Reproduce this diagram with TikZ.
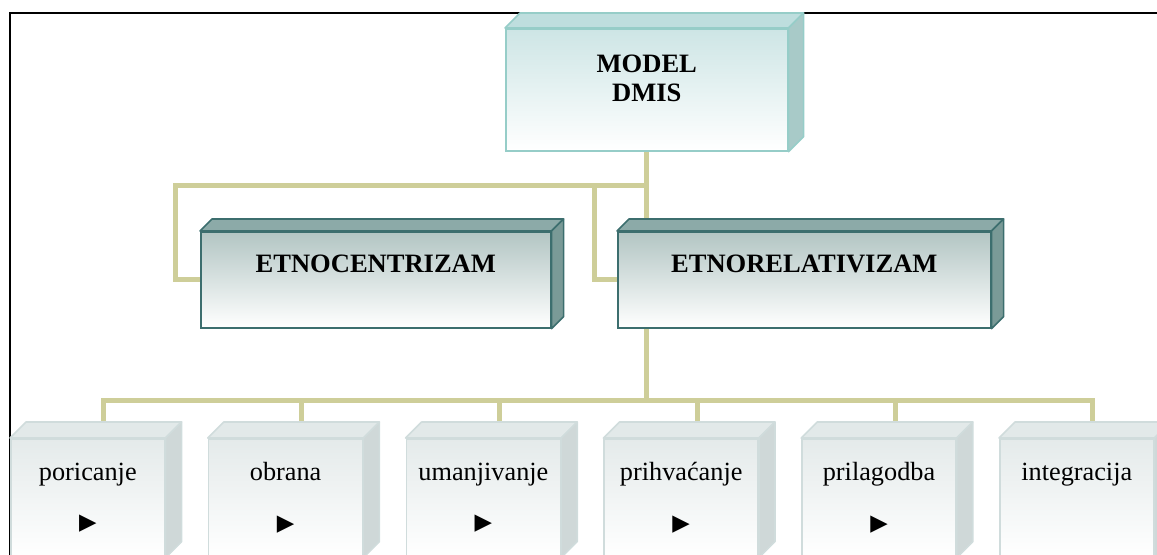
\documentclass[tikz,border=0pt]{standalone}
\usepackage{fontspec}
\setmainfont{Liberation Serif}
\newfontfamily\symfont{DejaVu Sans}
\usepackage{tikz}
\usetikzlibrary{calc}

\definecolor{connkhaki}{RGB}{206,206,153}
\definecolor{topfront}{RGB}{205,229,229}
\definecolor{topedge}{RGB}{150,205,200}
\definecolor{toptop}{RGB}{190,222,222}
\definecolor{topside}{RGB}{168,202,200}
\definecolor{midfront}{RGB}{178,197,195}
\definecolor{midedge}{RGB}{60,110,110}
\definecolor{midtop}{RGB}{140,170,168}
\definecolor{midside}{RGB}{122,154,151}
\definecolor{lowfront}{RGB}{228,234,234}
\definecolor{lowedge}{RGB}{208,220,220}
\definecolor{lowtop}{RGB}{226,233,233}
\definecolor{lowside}{RGB}{207,216,216}

\pgfdeclarelayer{background}
\pgfsetlayers{background,main}

% top and right face of a box: node, depth, top fill, side fill, edge
\newcommand{\boxdepth}[5]{%
  \draw[#5, line width=1.2pt, fill=#3, line join=round] (#1.north west) -- ++(#2,-#2)
    -- ($(#1.north east)+(#2,-#2)$) -- (#1.north east) -- cycle;
  \draw[#5, line width=1.2pt, fill=#4, line join=round] (#1.north east) -- ++(#2,-#2)
    -- ($(#1.south east)+(#2,-#2)$) -- (#1.south east) -- cycle;
}

\begin{document}
\begin{tikzpicture}[x=0.75pt,y=-0.75pt,
  conn/.style={line width=3.75pt, draw=connkhaki},
  modelbox/.style={draw=topedge, line width=1.2pt, top color=topfront, bottom color=white,
    minimum width=211.5pt, minimum height=91.5pt, anchor=north west, inner sep=0pt,
    align=center, text height=36pt, text depth=18pt,
    font=\fontsize{19.9}{21.75}\selectfont\bfseries},
  levelbox/.style={draw=midedge, line width=1.2pt, top color=midfront, bottom color=white,
    minimum height=72pt, anchor=north west, inner sep=0pt,
    text height=13.5pt, text depth=24pt,
    font=\fontsize{19.9}{22}\selectfont\bfseries},
  stagebox/.style={draw=lowedge, line width=1.2pt, top color=lowfront, bottom color=white,
    minimum width=115.5pt, minimum height=88.5pt, anchor=north west, inner sep=0pt,
    align=center, font=\fontsize{19.7}{22}\selectfont}]

\clip (0,0) rectangle (1157,554);

\node[modelbox] (model) at (505,28) {MODEL\\DMIS};

\node[levelbox, minimum width=262.5pt] (centrizam) at (200,231) {ETNOCENTRIZAM};
\node[levelbox, minimum width=279.75pt] (relativ) at (617,231) {ETNORELATIVIZAM};

\node[stagebox] (poricanje) at (10,438) {poricanje\\[15pt]{\symfont\fontsize{17}{17}\selectfont ▶}};
\node[stagebox] (obrana) at (207.8,438) {obrana\\[15pt]{\symfont\fontsize{17}{17}\selectfont ▶}};
\node[stagebox] (umanjivanje) at (405.6,438) {umanjivanje\\[15pt]{\symfont\fontsize{17}{17}\selectfont ▶}};
\node[stagebox] (prihvacanje) at (603.4,438) {prihvaćanje\\[15pt]{\symfont\fontsize{17}{17}\selectfont ▶}};
\node[stagebox] (prilagodba) at (801.2,438) {prilagodba\\[15pt]{\symfont\fontsize{17}{17}\selectfont ▶}};
\node[stagebox] (integracija) at (999,438) {integracija\\[15pt]{\phantom{\symfont\fontsize{17}{17}\selectfont ▶}}};

\boxdepth{model}{15}{toptop}{topside}{topedge}
\boxdepth{centrizam}{12}{midtop}{midside}{midedge}
\boxdepth{relativ}{12}{midtop}{midside}{midedge}
\boxdepth{poricanje}{16}{lowtop}{lowside}{lowedge}
\boxdepth{obrana}{16}{lowtop}{lowside}{lowedge}
\boxdepth{umanjivanje}{16}{lowtop}{lowside}{lowedge}
\boxdepth{prihvacanje}{16}{lowtop}{lowside}{lowedge}
\boxdepth{prilagodba}{16}{lowtop}{lowside}{lowedge}
\boxdepth{integracija}{16}{lowtop}{lowside}{lowedge}

\begin{pgfonlayer}{background}
  \draw[line width=1.1pt] (10,570) -- (10,13) -- (1170,13);

  \coordinate (upperbus) at (model.south |- 0,185);
  \coordinate (lowerbus) at (model.south |- 0,400);

  \draw[conn] (model.south) -- (lowerbus);
  \draw[conn] (upperbus) -| ($(centrizam.west)+(-25,0)$) -- (centrizam.west);
  \draw[conn] (upperbus) -| ($(relativ.west)+(-23,0)$) -- (relativ.west);

  \draw[conn] (lowerbus) -| ($(poricanje.north)+(16,-16)$);
  \draw[conn] (lowerbus) -| ($(obrana.north)+(16,-16)$);
  \draw[conn] (lowerbus) -| ($(umanjivanje.north)+(16,-16)$);
  \draw[conn] (lowerbus) -| ($(prihvacanje.north)+(16,-16)$);
  \draw[conn] (lowerbus) -| ($(prilagodba.north)+(16,-16)$);
  \draw[conn] (lowerbus) -| ($(integracija.north)+(16,-16)$);
\end{pgfonlayer}
\end{tikzpicture}
\end{document}
